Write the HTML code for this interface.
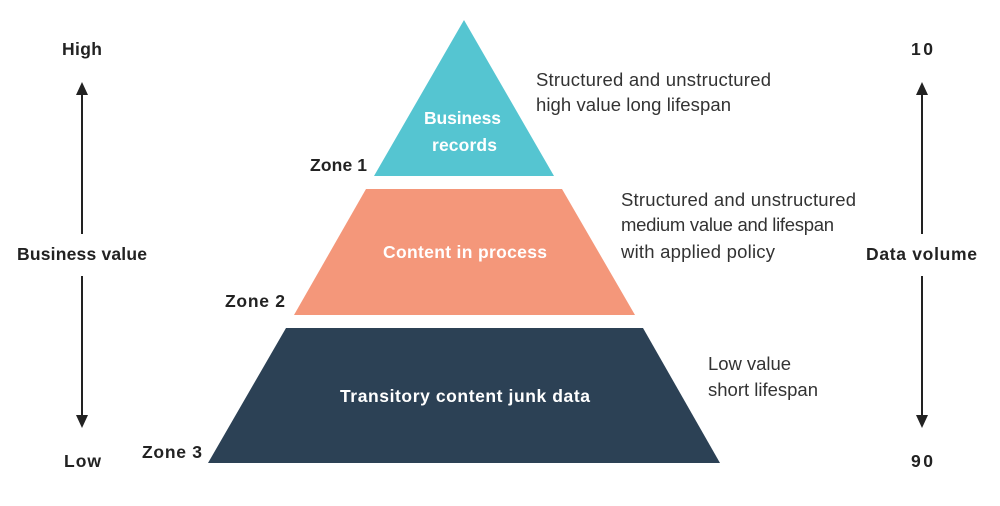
<!DOCTYPE html>
<html><head><meta charset="utf-8"><style>
body{margin:0;background:#fff;}
svg text{font-family:"Liberation Sans",sans-serif;}
</style></head><body>
<svg width="1000" height="501" viewBox="0 0 1000 501" xmlns="http://www.w3.org/2000/svg">
<polygon points="464,20 554,176 374,176" fill="#55C5D1"/>
<polygon points="366,189 562,189 635,315 294,315" fill="#F4977A"/>
<polygon points="286,328 643,328 720,463 208,463" fill="#2C4155"/>
<g fill="#fff" font-weight="bold" font-size="17.5" lengthAdjust="spacingAndGlyphs">
<text x="424" y="124" textLength="77">Business</text>
<text x="432" y="151" textLength="65">records</text>
<text x="383" y="258" textLength="164">Content in process</text>
<text x="340" y="402" textLength="250">Transitory content junk data</text>
</g>
<g fill="#222" font-weight="bold" font-size="17.5" lengthAdjust="spacingAndGlyphs">
<text x="310" y="171" textLength="57">Zone 1</text>
<text x="225" y="307" textLength="60">Zone 2</text>
<text x="142" y="458" textLength="60">Zone 3</text>
<text x="62" y="55" textLength="40">High</text>
<text x="17" y="260" textLength="130">Business value</text>
<text x="64" y="467" textLength="37">Low</text>
<text x="911" y="55" textLength="22">10</text>
<text x="866" y="260" textLength="111">Data volume</text>
<text x="911" y="467" textLength="22">90</text>
</g>
<g fill="#333" font-size="18.5" lengthAdjust="spacingAndGlyphs">
<text x="536" y="86" textLength="235">Structured and unstructured</text>
<text x="536" y="111" textLength="195">high value long lifespan</text>
<text x="621" y="206" textLength="235">Structured and unstructured</text>
<text x="621" y="231" textLength="213">medium value and lifespan</text>
<text x="621" y="258" textLength="154">with applied policy</text>
<text x="708" y="370" textLength="83">Low value</text>
<text x="708" y="396" textLength="110">short lifespan</text>
</g>
<g stroke="#222" stroke-width="2">
<line x1="82" y1="93" x2="82" y2="234"/><line x1="82" y1="276" x2="82" y2="418"/>
<line x1="922" y1="93" x2="922" y2="234"/><line x1="922" y1="276" x2="922" y2="418"/>
</g>
<g fill="#222">
<polygon points="82,82 76,95 88,95"/><polygon points="82,428 76,415 88,415"/>
<polygon points="922,82 916,95 928,95"/><polygon points="922,428 916,415 928,415"/>
</g>
</svg>
</body></html>
